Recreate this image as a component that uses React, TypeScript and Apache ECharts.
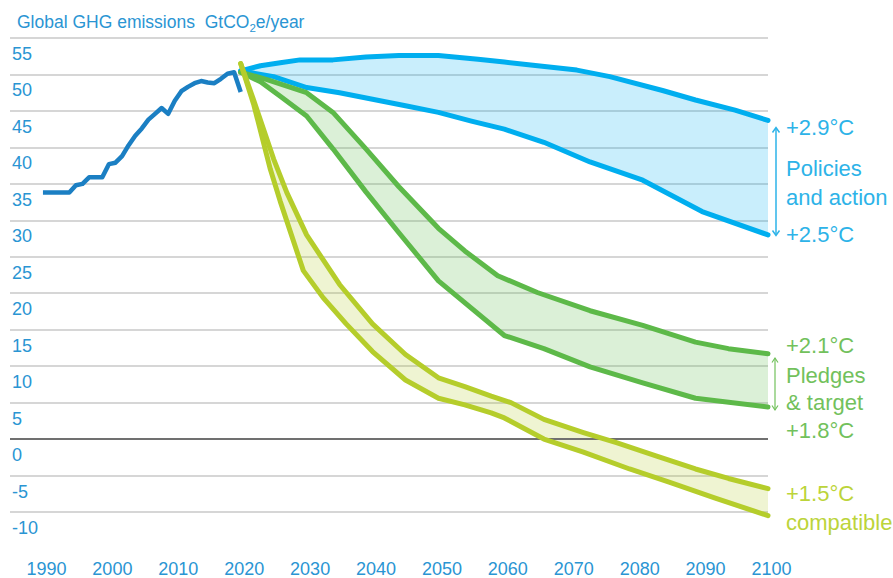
import React, { useEffect, useRef } from "react";
import * as echarts from "echarts";

const FONT = '"Liberation Sans", Arial, Helvetica, sans-serif';

// Historic emissions (GtCO2e/year)
const historicYears = [1990, 1991, 1992, 1993, 1994, 1995, 1996, 1997, 1998, 1999, 2000, 2001, 2002, 2003, 2004, 2005, 2006, 2007, 2008, 2009, 2010, 2011, 2012, 2013, 2014, 2015, 2016, 2017, 2018, 2019, 2020];
const historicValues = [33.8, 33.8, 33.8, 33.8, 33.8, 34.8, 35.0, 35.9, 35.9, 35.9, 37.7, 37.9, 38.8, 40.3, 41.6, 42.6, 43.8, 44.6, 45.4, 44.6, 46.4, 47.7, 48.3, 48.8, 49.1, 48.9, 48.8, 49.4, 50.1, 50.3, 47.6];

// Policies and action: +2.9°C (upper) and +2.5°C (lower)
const policiesUpper: [number, number][] = [[2020, 50.5], [2023, 51.2], [2026, 51.6], [2029, 52.0], [2034, 52.0], [2039, 52.4], [2044, 52.6], [2050, 52.6], [2056, 52.1], [2060, 51.7], [2064, 51.3], [2071, 50.6], [2076, 49.7], [2084, 47.8], [2089, 46.5], [2095, 45.1], [2100, 43.7]];
const policiesLower: [number, number][] = [[2020, 50.5], [2025, 49.7], [2030, 48.2], [2035, 47.5], [2040, 46.6], [2045, 45.7], [2050, 44.8], [2055, 43.6], [2060, 42.5], [2066, 40.7], [2073, 38.0], [2081, 35.5], [2090, 31.2], [2100, 28.0]];

// Pledges & target: +2.1°C (upper) and +1.8°C (lower)
const pledgesUpper: [number, number][] = [[2020, 50.3], [2024, 49.3], [2030, 47.5], [2034, 44.8], [2039, 39.8], [2044, 34.6], [2050, 28.9], [2054, 25.8], [2059, 22.4], [2065, 20.1], [2073, 17.6], [2081, 15.6], [2089, 13.3], [2094, 12.4], [2100, 11.7]];
const pledgesLower: [number, number][] = [[2020, 50.3], [2023, 49.0], [2026, 47.0], [2030, 44.3], [2034, 39.8], [2039, 33.9], [2044, 28.3], [2050, 21.7], [2060, 14.2], [2066, 12.4], [2073, 9.9], [2081, 7.7], [2089, 5.6], [2100, 4.4]];

// +1.5°C compatible
const compatUpper: [number, number][] = [[2020, 51.5], [2022, 46.4], [2025, 38.4], [2027, 33.8], [2030, 28.0], [2035, 21.2], [2040, 15.8], [2045, 11.6], [2050, 8.4], [2054, 7.2], [2058, 5.9], [2061, 5.0], [2066, 2.7], [2072, 0.9], [2077, -0.5], [2083, -2.3], [2089, -4.1], [2094, -5.4], [2100, -6.8]];
const compatLower: [number, number][] = [[2020, 51.5], [2022, 45.8], [2024.5, 37.0], [2026, 32.6], [2029.5, 23.1], [2032.5, 19.4], [2036, 15.8], [2040, 12.0], [2045, 8.1], [2050, 5.6], [2054, 4.7], [2058, 3.6], [2060, 2.9], [2066, 0.0], [2072, -1.8], [2079, -4.1], [2085, -5.9], [2092, -8.1], [2100, -10.5]];

const AXIS_BLUE = "#2a95d3";
const HIST_BLUE = "#1b7fc3";
const POL_BLUE = "#00aeef";
const POL_TEXT = "#2db3e8";
const PLEDGE_GREEN = "#5db949";
const PLEDGE_TEXT = "#72c15c";
const COMPAT_GREEN = "#b5cd2b";
const COMPAT_TEXT = "#bcd43a";

function bandSeries(upper: [number, number][], lower: [number, number][], fill: string, z: number) {
  const poly = upper.concat(lower.slice().reverse());
  return {
    type: "custom",
    z,
    silent: true,
    data: poly,
    encode: { x: 0, y: 1 },
    renderItem: (params: any, api: any) => {
      if (params.dataIndex !== 0) return null;
      const points = poly.map((p) => api.coord(p));
      return { type: "polygon", shape: { points }, style: { fill } };
    },
  };
}

function lineSeries(data: [number, number][], color: string, z: number) {
  return {
    type: "line",
    z,
    data,
    symbol: "none",
    showSymbol: false,
    clip: false,
    silent: true,
    lineStyle: { color, width: 5, cap: "round", join: "round" },
  };
}

function txt(text: string, x: number, y: number, fill: string) {
  return {
    type: "text",
    x,
    y,
    silent: true,
    style: { text, fill, fontSize: 22, fontFamily: FONT, verticalAlign: "middle", align: "left" },
  };
}

export default function App() {
  const ref = useRef<HTMLDivElement>(null);
  useEffect(() => {
    if (!ref.current) return;
    const chart = echarts.init(ref.current, undefined, { renderer: "svg" });
    chart.setOption({
      animation: false,
      backgroundColor: "#ffffff",
      grid: { left: 10, right: 125, top: 38, bottom: 61 },
      xAxis: {
        type: "value",
        min: 1985,
        max: 2100,
        interval: 5,
        axisLine: { show: false },
        axisTick: { show: false },
        splitLine: { show: false },
        axisLabel: {
          formatter: (v: number) => (v % 10 === 0 && v >= 1990 ? String(v) : ""),
          color: AXIS_BLUE,
          fontSize: 18,
          fontFamily: FONT,
          margin: 48,
          padding: [0, 0, 0, 7],
          showMinLabel: true,
          showMaxLabel: true,
        },
      },
      yAxis: {
        type: "value",
        min: -10,
        max: 55,
        interval: 5,
        axisLine: { show: false },
        axisTick: { show: false },
        splitLine: { lineStyle: { color: "#c8c8c8", width: 1.5 } },
        axisLabel: {
          inside: true,
          margin: 2,
          verticalAlign: "top",
          padding: [7, 0, 0, 0],
          color: AXIS_BLUE,
          fontSize: 18,
          fontFamily: FONT,
          showMinLabel: true,
          showMaxLabel: true,
        },
      },
      series: [
        bandSeries(policiesUpper, policiesLower, "rgba(0,174,239,0.21)", 1),
        bandSeries(pledgesUpper, pledgesLower, "rgba(93,185,73,0.22)", 1),
        bandSeries(compatUpper, compatLower, "rgba(181,205,43,0.21)", 1),
        {
          type: "line",
          z: 3,
          data: historicYears.map((y, i) => [y, historicValues[i]]),
          symbol: "none",
          showSymbol: false,
          silent: true,
          lineStyle: { color: HIST_BLUE, width: 4.5, join: "round" },
          markLine: {
            silent: true,
            symbol: ["none", "none"],
            label: { show: false },
            lineStyle: { color: "#707070", width: 2, type: "solid" },
            data: [{ yAxis: 0 }],
          },
        },
        lineSeries(policiesUpper, POL_BLUE, 4),
        lineSeries(policiesLower, POL_BLUE, 4),
        lineSeries(pledgesUpper, PLEDGE_GREEN, 5),
        lineSeries(pledgesLower, PLEDGE_GREEN, 5),
        lineSeries(compatUpper, COMPAT_GREEN, 6),
        lineSeries(compatLower, COMPAT_GREEN, 6),
      ],
      graphic: [
        {
          type: "text",
          x: 17,
          y: 20,
          silent: true,
          style: {
            text: "{a|Global GHG emissions  GtCO}{s|2}{a|e/year}",
            fill: AXIS_BLUE,
            fontFamily: FONT,
            verticalAlign: "middle",
            rich: {
              a: { fontSize: 17.5, fontFamily: FONT, fill: AXIS_BLUE, lineHeight: 21, verticalAlign: "bottom" },
              s: { fontSize: 11.5, fontFamily: FONT, fill: AXIS_BLUE, lineHeight: 13, verticalAlign: "bottom", padding: [0, 0, -3, 0] },
            },
          },
        },
        txt("+2.9°C", 786, 127, POL_TEXT),
        txt("Policies", 786, 168, POL_TEXT),
        txt("and action", 786, 197, POL_TEXT),
        txt("+2.5°C", 786, 234, POL_TEXT),
        txt("+2.1°C", 786, 345, PLEDGE_TEXT),
        txt("Pledges", 786, 375, PLEDGE_TEXT),
        txt("& target", 786, 402, PLEDGE_TEXT),
        txt("+1.8°C", 786, 430, PLEDGE_TEXT),
        txt("+1.5°C", 786, 493, COMPAT_TEXT),
        txt("compatible", 786, 522, COMPAT_TEXT),
        { type: "line", silent: true, shape: { x1: 776, y1: 128, x2: 776, y2: 235 }, style: { stroke: POL_TEXT, lineWidth: 1.5 } },
        { type: "polyline", silent: true, shape: { points: [[772.5, 132.5], [776, 127.5], [779.5, 132.5]] }, style: { stroke: POL_TEXT, lineWidth: 1.5, fill: null } },
        { type: "polyline", silent: true, shape: { points: [[772.5, 230.5], [776, 235.5], [779.5, 230.5]] }, style: { stroke: POL_TEXT, lineWidth: 1.5, fill: null } },
        { type: "line", silent: true, shape: { x1: 775, y1: 358, x2: 775, y2: 410 }, style: { stroke: PLEDGE_TEXT, lineWidth: 1.2 } },
        { type: "polyline", silent: true, shape: { points: [[772, 362.5], [775, 358], [778, 362.5]] }, style: { stroke: PLEDGE_TEXT, lineWidth: 1.2, fill: null } },
        { type: "polyline", silent: true, shape: { points: [[772, 405.5], [775, 410], [778, 405.5]] }, style: { stroke: PLEDGE_TEXT, lineWidth: 1.2, fill: null } },
      ],
    });
    return () => chart.dispose();
  }, []);
  return (
    <div
      ref={ref}
      style={{ position: "fixed", left: 0, top: 0, width: 893, height: 578, background: "#fff" }}
    />
  );
}
